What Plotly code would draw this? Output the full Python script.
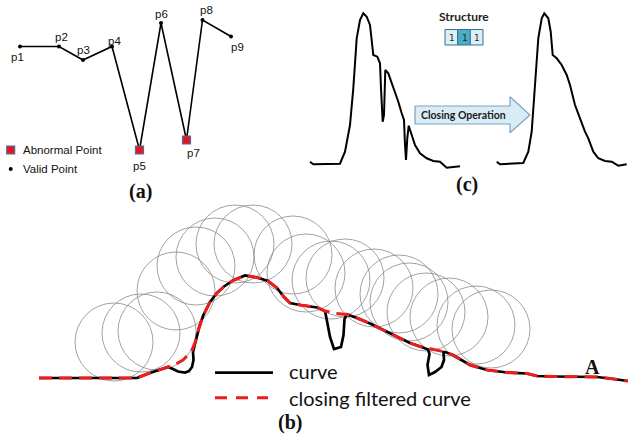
import plotly.graph_objects as go

# ---------------- panel (a) : points ----------------
A_LABELS = ["p1", "p2", "p3", "p4", "p5", "p6", "p7", "p8", "p9"]
A_X = [20, 59, 83, 112, 139.5, 161, 186.5, 202.5, 231]
A_Y = [46.5, 46.5, 60, 46.5, 150, 23, 140, 20, 36.5]
A_LAB_X = [17, 61, 83, 114, 139, 161, 193, 206, 237]
A_LAB_Y = [57, 37, 50, 41, 166, 14, 153, 10, 47]
A_ABNORMAL = ["p5", "p7"]
A_LEGEND = ["Abnormal Point", "Valid Point"]

# ---------------- panel (c) : signals ----------------
C_LEFT_X = [310, 313.3, 340, 345, 350, 353.3, 356.7, 360, 363.3, 366.7, 370, 371.7, 373.3, 377.3, 380,
            381, 382.7, 384, 385.3, 388.3, 393.3, 398.3, 401.7, 404, 405, 406, 407.3, 408.7, 411.7,
            415, 420, 426.7, 433.3, 440, 446.7, 453.3, 460]
C_LEFT_Y = [161.7, 164.3, 163.7, 151.7, 125, 88.3, 38.3, 20, 13.3, 16.7, 25, 38.3, 55, 56.7, 63.3,
            88.3, 121.7, 115, 70, 73.3, 86.7, 101.7, 113.3, 120, 145, 160, 138.3, 125.7, 135,
            145, 153.3, 158.3, 161, 161.7, 167.7, 166.7, 166.3]
C_RIGHT_X = [496.7, 500, 523.3, 528.3, 531.7, 535, 538.3, 541.7, 544.3, 548.3, 550.7, 552.7, 556.7,
             561.7, 566.7, 570, 575, 580, 585, 588.3, 593.3, 598.3, 605, 611.7, 618.3, 626.7]
C_RIGHT_Y = [161.7, 164.3, 163, 151.7, 131.7, 88.3, 38.3, 18.3, 13.3, 18.3, 31.7, 55, 58.3,
             65, 75, 85, 105, 118.3, 131.7, 138.3, 151.7, 158.3, 161, 161.7, 165.7, 164.3]
STRUCT_VALUES = ["1", "1", "1"]
STRUCT_LEFT = [445, 457.7, 470.3]
ARROW_X = [415, 510, 510, 530, 510, 510, 415, 415]
ARROW_Y = [106, 106, 96.7, 115, 132.7, 124, 124, 106]

# ---------------- panel (b) : rolling ball closing ----------------
B_CURVE_X = [39, 137, 147, 160, 168, 173, 178, 185, 189, 192, 193.5, 193, 196, 199, 203, 210, 217, 224,
             233, 245, 257, 268, 277, 284, 290, 300, 317, 325, 327, 330, 334, 341, 343.5, 344.5, 347,
             357, 370, 383, 397, 410, 420, 428, 429.5, 427.5, 429, 435, 441.5, 444, 443.5, 445, 453,
             462, 470, 487, 507, 527, 537, 553, 577, 597, 610, 628]
B_CURVE_Y = [378, 378, 374, 370, 367, 369, 371.5, 372.5, 371, 367, 360, 352, 340, 328, 316, 302, 293,
             286.5, 280.5, 275.5, 277.5, 281, 288, 297, 303, 305, 307.5, 311, 321, 337, 349, 347, 335,
             319, 314.5, 318, 323.5, 330, 337, 343, 346.5, 349.5, 354, 365, 375, 372, 367, 360, 352,
             352, 355, 360, 365, 370, 372.5, 373.5, 376, 376.5, 376.5, 377, 378.5, 381]
B_CLOSED_X = [39, 137, 147, 160, 168, 176, 183, 188, 192, 196, 199, 203, 210, 217, 224, 233, 245, 257,
              268, 277, 284, 290, 300, 317, 325, 336, 347, 357, 370, 383, 397, 410, 420, 433, 445,
              453, 462, 470, 487, 507, 527, 537, 553, 577, 597, 610, 628]
B_CLOSED_Y = [378, 378, 374, 370, 367, 364, 360, 355, 350, 340, 328, 316, 302, 293, 286.5, 280.5,
              275.5, 277.5, 281, 288, 297, 303, 305, 307.5, 311, 313.5, 314.5, 318, 323.5, 330, 337,
              343, 346.5, 349.5, 352, 355, 360, 365, 370, 372.5, 373.5, 376, 376.5, 376.5, 377,
              378.5, 381]
BALL_CX = [114, 141, 157, 176, 196, 215, 235, 253, 293, 306, 331, 345, 374, 399, 409, 426, 449, 476, 491]
BALL_CY = [342, 333, 331, 291, 266, 257, 244, 244, 255, 273, 280, 278, 288, 294, 302, 312, 317, 325, 329]
BALL_R = 39
B_LEGEND = ["curve", "closing filtered curve"]

fig = go.Figure()

# ---- panel (a)
fig.add_trace(go.Scatter(x=A_X, y=A_Y, mode="lines+markers",
                         line=dict(color="black", width=1.6),
                         marker=dict(color="black", size=4), hoverinfo="skip"))
ab_x = [A_X[A_LABELS.index(p)] for p in A_ABNORMAL]
ab_y = [A_Y[A_LABELS.index(p)] for p in A_ABNORMAL]
fig.add_trace(go.Scatter(x=ab_x, y=ab_y, mode="markers",
                         marker=dict(symbol="square", color="#e8141b", size=8,
                                     line=dict(color="#4a6fa5", width=1.2)), hoverinfo="skip"))
for lab, lx, ly in zip(A_LABELS, A_LAB_X, A_LAB_Y):
    fig.add_annotation(x=lx, y=ly, text=lab, showarrow=False,
                       font=dict(family="Liberation Sans, Arial", size=11.5, color="#111"))
# legend of (a)
fig.add_trace(go.Scatter(x=[10.7], y=[150], mode="markers",
                         marker=dict(symbol="square", color="#e8141b", size=8,
                                     line=dict(color="#4a6fa5", width=1.2)), hoverinfo="skip"))
fig.add_trace(go.Scatter(x=[10.7], y=[169], mode="markers",
                         marker=dict(color="black", size=4), hoverinfo="skip"))
for t, ly in zip(A_LEGEND, [150, 169]):
    fig.add_annotation(x=21, y=ly, text=t, showarrow=False, xanchor="left",
                       font=dict(family="Liberation Sans, Arial", size=11.5, color="#111"))

# ---- panel (c)
fig.add_trace(go.Scatter(x=C_LEFT_X, y=C_LEFT_Y, mode="lines",
                         line=dict(color="black", width=2), hoverinfo="skip"))
fig.add_trace(go.Scatter(x=C_RIGHT_X, y=C_RIGHT_Y, mode="lines",
                         line=dict(color="black", width=2), hoverinfo="skip"))
fig.add_trace(go.Scatter(x=ARROW_X, y=ARROW_Y, mode="lines", fill="toself",
                         fillcolor="#d9ebf5", line=dict(color="#7aa3c8", width=1.2), hoverinfo="skip"))
fig.add_annotation(x=463, y=115, text="<b>Closing Operation</b>", showarrow=False,
                   font=dict(family="Lato, Open Sans", size=10.5, color="#1a1a1a"))
fig.add_annotation(x=464, y=16, text="<b>Structure</b>", showarrow=False,
                   font=dict(family="Lato, Open Sans", size=12, color="#222"))
for i, (v, x0) in enumerate(zip(STRUCT_VALUES, STRUCT_LEFT)):
    fig.add_shape(type="rect", x0=x0, x1=x0 + 12.7, y0=29.5, y1=45,
                  fillcolor="#4bacc6" if i == 1 else "#dbeef4",
                  line=dict(color="#3b6e9a", width=1))
    fig.add_annotation(x=x0 + 6.35, y=37.5, text=v, showarrow=False,
                       font=dict(family="DejaVu Sans Mono", size=9, color="#222"))

# ---- panel (b)
for cx, cy in zip(BALL_CX, BALL_CY):
    fig.add_shape(type="circle", x0=cx - BALL_R, x1=cx + BALL_R, y0=cy - BALL_R, y1=cy + BALL_R,
                  line=dict(color="#8a8a8a", width=0.8), layer="below")
fig.add_trace(go.Scatter(x=B_CURVE_X, y=B_CURVE_Y, mode="lines",
                         line=dict(color="black", width=2.7), hoverinfo="skip"))
fig.add_trace(go.Scatter(x=B_CLOSED_X, y=B_CLOSED_Y, mode="lines",
                         line=dict(color="#ee1c1c", width=3, dash="13px,7px"), hoverinfo="skip"))
fig.add_trace(go.Scatter(x=[215, 273], y=[372.7, 372.7], mode="lines",
                         line=dict(color="black", width=2.7), hoverinfo="skip"))
fig.add_trace(go.Scatter(x=[215, 268], y=[397.7, 397.7], mode="lines",
                         line=dict(color="#ee1c1c", width=3, dash="12px,9px"), hoverinfo="skip"))
for t, ly in zip(B_LEGEND, [371, 397.5]):
    fig.add_annotation(x=287, y=ly, text=t, showarrow=False, xanchor="left",
                       font=dict(family="Lato, Open Sans", size=20, color="#111"))

# panel captions
for t, x, y, s in [("(a)", 140, 191, 20), ("(c)", 467, 184, 20), ("(b)", 290, 422, 20), ("A", 592, 367, 20)]:
    fig.add_annotation(x=x, y=y, text="<b>%s</b>" % t, showarrow=False,
                       font=dict(family="Liberation Serif, Times New Roman", size=s, color="#111"))

fig.update_layout(width=628, height=435, margin=dict(l=0, r=0, t=0, b=0),
                  plot_bgcolor="white", paper_bgcolor="white", showlegend=False,
                  xaxis=dict(range=[0, 628], visible=False, fixedrange=True),
                  yaxis=dict(range=[435, 0], visible=False, fixedrange=True))
fig.write_html("out.html", config={"displayModeBar": False},
               post_script="document.body.style.margin='0';document.body.style.overflow='hidden';")
